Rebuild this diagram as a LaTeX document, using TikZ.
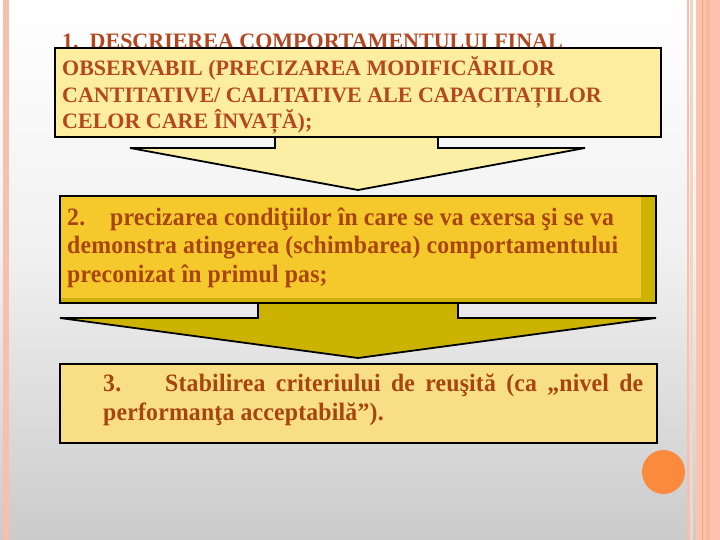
\documentclass[tikz,border=0pt]{standalone}
\usepackage{fontspec}
\setmainfont{Liberation Serif}
\newfontfamily\condfont{Liberation Serif}[FakeStretch=0.95,LetterSpace=0.8]
\definecolor{bgtop}{HTML}{FFFFFF}
\definecolor{bgmid}{HTML}{F1F1F1}
\definecolor{bgbot}{HTML}{CBCBCB}
\definecolor{pinkA}{HTML}{F7C0AC}
\definecolor{pinkB}{HTML}{FAD2C2}
\definecolor{pinkC}{HTML}{FBC3AD}
\definecolor{pinkD}{HTML}{EFA07E}
\definecolor{boxone}{HTML}{FCEE9E}
\definecolor{arrowone}{HTML}{FBEFA6}
\definecolor{boxtwo}{HTML}{F5C82C}
\definecolor{boxtwodark}{HTML}{CDB300}
\definecolor{arrowtwo}{HTML}{CCB300}
\definecolor{boxthree}{HTML}{F8DF86}
\definecolor{txtone}{HTML}{B4471F}
\definecolor{txttwo}{HTML}{A8440E}
\definecolor{dotcol}{HTML}{FB8A3C}
\tikzset{
  boxline/.style={draw=black, line width=2.6pt},
  arrowline/.style={draw=black, line width=1.8pt, line join=miter},
  lineone/.style={anchor=base west, inner sep=0pt, text=txtone, font=\fontsize{22}{27}\selectfont\bfseries},
  linetwo/.style={anchor=base west, inner sep=0pt, text=txttwo, font=\condfont\fontsize{25}{29}\selectfont\bfseries},
}
\begin{document}
\begin{tikzpicture}[x=1pt,y=-1pt]
\useasboundingbox (0,0) rectangle (720,540);
% background
\shade[top color=bgtop, bottom color=bgmid] (0,0) rectangle (720,250);
\shade[top color=bgmid, bottom color=bgbot] (0,250) rectangle (720,540);
% frame stripes
\fill[pinkA] (3,0) rectangle (9,540);
\fill[pinkA] (687,0) rectangle (689,540);
\fill[pinkB] (690,0) rectangle (692.5,540);
\fill[pinkC] (696,0) rectangle (720,540);
\fill[pinkD] (701.5,0) rectangle (703,540);
\fill[pinkA!90!orange] (706,0) rectangle (710,540);
% arrow 1
\coordinate (a1sl) at (275,130);
\coordinate (a1sr) at (438,130);
\coordinate (a1tip) at (358,190);
\filldraw[arrowline, fill=arrowone] (a1sl) -- (275,148) -- (130,148) -- (a1tip) -- (585,148) -- (438,148) -- (a1sr) -- cycle;
% arrow 2
\coordinate (a2sl) at (258,295);
\coordinate (a2sr) at (458,295);
\coordinate (a2tip) at (358,358);
\filldraw[arrowline, fill=arrowtwo] (a2sl) -- (258,318) -- (60,318) -- (a2tip) -- (656,318) -- (458,318) -- (a2sr) -- cycle;
% box 1
\fill[boxone] (55,48) rectangle (661,137);
\node[lineone] (t1a) at (62,49) {1.\ \ DESCRIEREA COMPORTAMENTULUI FINAL};
\node[lineone] (t1b) at (62,76) {OBSERVABIL (PRECIZAREA MODIFICĂRILOR};
\node[lineone] (t1c) at (62,102.5) {CANTITATIVE/ CALITATIVE ALE CAPACITAȚILOR};
\node[lineone] (t1d) at (62,129) {CELOR CARE ÎNVAȚĂ);};
\draw[boxline] (55,48) rectangle (661,137);
% box 2
\fill[boxtwodark] (60,196) rectangle (656,303);
\fill[boxtwo] (61,197) rectangle (641,298);
\draw[boxline] (60,196) rectangle (656,303);
\node[linetwo] (t2a) at (67,225.5) {2.};
\node[linetwo] (t2b) at (110,225.5) {precizarea condiţiilor în care se va exersa şi se va};
\node[linetwo] (t2c) at (67,254) {demonstra atingerea (schimbarea) comportamentului};
\node[linetwo] (t2d) at (67,282.5) {preconizat în primul pas;};
% box 3
\filldraw[boxline, fill=boxthree] (60,364) rectangle (657,443);
\node[linetwo] (t3a) at (103,391) {\hbox to 540pt{3.\hspace{44pt}Stabilirea\hfill criteriului\hfill de\hfill reuşită\hfill (ca\hfill „nivel\hfill de}};
\node[linetwo] (t3b) at (103,420) {performanţa acceptabilă”).};
% dot
\fill[dotcol] (663.5,472) ellipse (21.5 and 22);
\end{tikzpicture}
\end{document}
